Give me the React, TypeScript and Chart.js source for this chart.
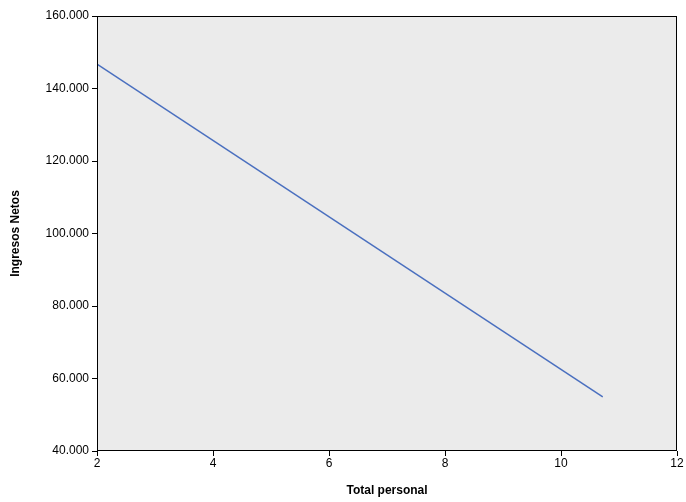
import { useEffect, useRef } from "react";
import { Chart, registerables } from "chart.js";

Chart.register(...registerables);

const xValues = [2, 10.72];
const yValues = [146700, 54900];
const xTicks = [2, 4, 6, 8, 10, 12];
const yTicks = [40000, 60000, 80000, 100000, 120000, 140000, 160000];

const fmt = (v: number) => v.toLocaleString("de-DE", { minimumFractionDigits: 3 }).replace(/,000$/, "");

const plotFrame = {
  id: "plotFrame",
  beforeDraw(chart: any) {
    const { ctx, chartArea: a } = chart;
    ctx.save();
    ctx.fillStyle = "#ebebeb";
    ctx.fillRect(a.left, a.top, a.right - a.left, a.bottom - a.top);
    ctx.restore();
  },
  afterDraw(chart: any) {
    const { ctx, chartArea: a } = chart;
    ctx.save();
    ctx.strokeStyle = "#000";
    ctx.lineWidth = 1;
    ctx.strokeRect(Math.round(a.left) + 0.5, Math.round(a.top) + 0.5, Math.round(a.right - a.left) - 1, Math.round(a.bottom - a.top) - 1);
    ctx.restore();
  },
};

export default function App() {
  const canvasRef = useRef<HTMLCanvasElement | null>(null);

  useEffect(() => {
    document.body.style.margin = "0";
    const canvas = canvasRef.current;
    if (!canvas) return;
    const font = { family: "Liberation Sans, Arial, sans-serif", size: 12 };
    const chart = new Chart(canvas, {
      type: "scatter",
      data: {
        datasets: [
          {
            data: xValues.map((x, i) => ({ x, y: yValues[i] })),
            showLine: true,
            borderColor: "#4a6fbf",
            borderWidth: 1.5,
            pointRadius: 0,
          },
        ],
      },
      options: {
        animation: false,
        responsive: false,
        layout: { padding: { top: 16, right: 9, left: 0, bottom: 0 } },
        plugins: { legend: { display: false }, tooltip: { enabled: false } },
        scales: {
          x: {
            type: "linear",
            min: 2,
            max: 12,
            afterBuildTicks: (s: any) => { s.ticks = xTicks.map((value) => ({ value })); },
            afterFit: (s: any) => { s.height = 51; },
            grid: { drawOnChartArea: false, tickLength: 5, color: "#000" },
            border: { display: false },
            ticks: { color: "#000", font, padding: 0, callback: (v: any) => String(v) },
            title: { display: true, text: "Total personal", color: "#000", font: { ...font, weight: "bold" }, padding: { top: 4 } },
          },
          y: {
            min: 40000,
            max: 160000,
            afterBuildTicks: (s: any) => { s.ticks = yTicks.map((value) => ({ value })); },
            afterFit: (s: any) => { s.width = 97; },
            grid: { drawOnChartArea: false, tickLength: 5, color: "#000" },
            border: { display: false },
            ticks: { color: "#000", font, padding: 3, callback: (v: any) => fmt(Number(v)) },
            title: { display: true, text: "Ingresos Netos", color: "#000", font: { ...font, weight: "bold" }, padding: { top: 8, bottom: 0 } },
          },
        },
      },
      plugins: [plotFrame],
    });
    return () => chart.destroy();
  }, []);

  return <canvas ref={canvasRef} width={686} height={502} />;
}
